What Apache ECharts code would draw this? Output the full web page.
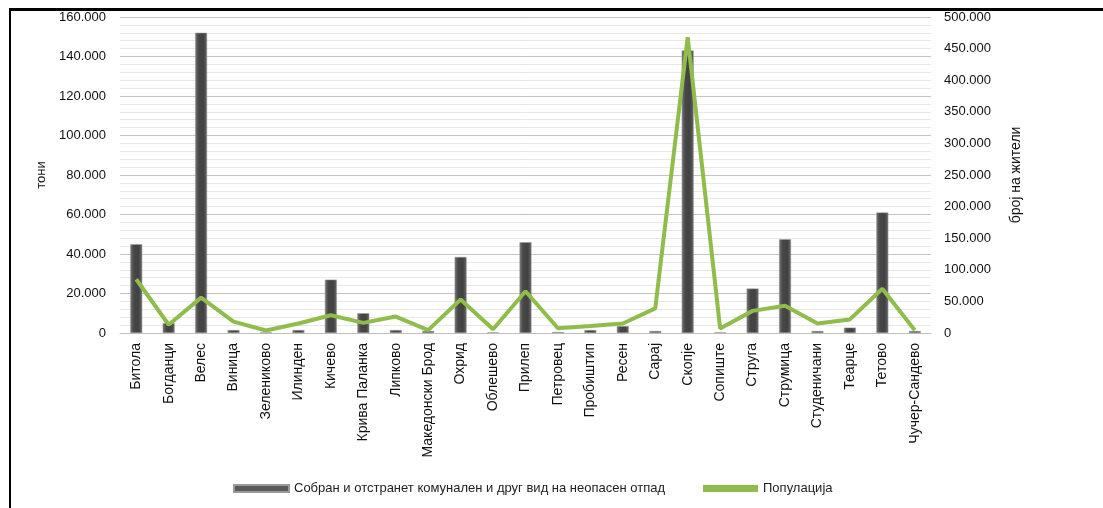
<!DOCTYPE html>
<html>
<head>
<meta charset="utf-8">
<title>Отпад и популација по општини</title>
<script src="https://cdn.jsdelivr.net/npm/echarts@6/dist/echarts.min.js"></script>
<style>
  html, body { margin: 0; padding: 0; background: #fff; }
  #frame { position: absolute; left: 9px; top: 8px; right: 0; bottom: 0;
           border-top: 3px solid #000; border-left: 2px solid #000; }
  #chart { position: absolute; left: 0; top: 0; width: 1103px; height: 508px; }
</style>
</head>
<body>
<div id="chart"></div>
<div id="frame"></div>
<script>
// општини
const municipalities = ['Битола', 'Богданци', 'Велес', 'Виница', 'Зелениково', 'Илинден', 'Кичево',
  'Крива Паланка', 'Липково', 'Македонски Брод', 'Охрид', 'Облешево', 'Прилеп', 'Петровец',
  'Пробиштип', 'Ресен', 'Сарај', 'Скопје', 'Сопиште', 'Струга', 'Струмица', 'Студеничани',
  'Теарце', 'Тетово', 'Чучер-Сандево'];

// тони отпад
const waste = [45000, 5000, 152000, 1500, 300, 1500, 27000, 10000, 1500, 1000, 38500, 300, 46000, 500,
  1500, 3500, 1000, 143000, 300, 22500, 47500, 1000, 2700, 61000, 1000];

// број на жители
const population = [85000, 13000, 56000, 18000, 4000, 15000, 28000, 16000, 26000, 4500, 53000, 6000,
  66000, 7500, 11000, 15000, 39000, 468000, 7000, 35000, 43000, 15000, 21500, 70000, 4500];

const wasteName = 'Собран и отстранет комунален и друг вид на неопасен отпад';
const popName = 'Популација';

const fmt = v => String(v).replace(/\B(?=(\d{3})+(?!\d))/g, '.');

const chart = echarts.init(document.getElementById('chart'));
const font = 'Liberation Sans, Arial, sans-serif';

const option = {
  animation: false,
  textStyle: { fontFamily: font },
  grid: { left: 120, right: 172, top: 17, bottom: 175 },
  legend: {
    bottom: 8,
    left: 228,
    itemGap: 38,
    itemWidth: 55,
    itemHeight: 7,
    textStyle: { fontSize: 13, color: '#222', fontFamily: font },
    data: [
      { name: wasteName, icon: 'rect', itemStyle: { color: '#5a5a5a' } },
      { name: popName, icon: 'rect', itemStyle: { color: '#8fbc4a' } }
    ]
  },
  xAxis: {
    type: 'category',
    data: municipalities,
    axisLine: { lineStyle: { color: '#bfbfbf' } },
    axisTick: { show: false },
    axisLabel: { rotate: 90, interval: 0, fontSize: 14, color: '#111', margin: 10 }
  },
  yAxis: [
    {
      type: 'value',
      min: 0, max: 160000, interval: 20000,
      name: 'тони',
      nameLocation: 'middle',
      nameGap: 72,
      nameTextStyle: { fontSize: 13, color: '#111' },
      axisLabel: { formatter: fmt, fontSize: 13, color: '#111', margin: 14 },
      axisLine: { show: false },
      axisTick: { show: false },
      splitLine: { lineStyle: { color: '#c4c4c4', width: 1 } },
      minorTick: { show: false, splitNumber: 5 },
      minorSplitLine: { show: true, lineStyle: { color: '#e8e8e8' } }
    },
    {
      type: 'value',
      min: 0, max: 500000, interval: 50000,
      name: 'број на жители',
      nameLocation: 'middle',
      nameGap: 78,
      nameRotate: 90,
      nameTextStyle: { fontSize: 14, color: '#111' },
      axisLabel: { formatter: fmt, fontSize: 13, color: '#111', margin: 13 },
      axisLine: { show: false },
      axisTick: { show: false },
      splitLine: { show: false }
    }
  ],
  series: [
    {
      name: wasteName,
      type: 'bar',
      yAxisIndex: 0,
      barWidth: 12,
      data: waste,
      itemStyle: {
        color: new echarts.graphic.LinearGradient(0, 0, 1, 0, [
          { offset: 0, color: '#777' },
          { offset: 0.3, color: '#474747' },
          { offset: 0.7, color: '#424242' },
          { offset: 1, color: '#6a6a6a' }
        ]),
        borderColor: '#9a9a9a',
        borderWidth: 0.5
      }
    },
    {
      name: popName,
      type: 'line',
      yAxisIndex: 1,
      data: population,
      symbol: 'none',
      lineStyle: { color: '#8fbc4a', width: 4 },
      itemStyle: { color: '#8fbc4a' },
      z: 5
    }
  ]
};

chart.setOption(option);
</script>
</body>
</html>
